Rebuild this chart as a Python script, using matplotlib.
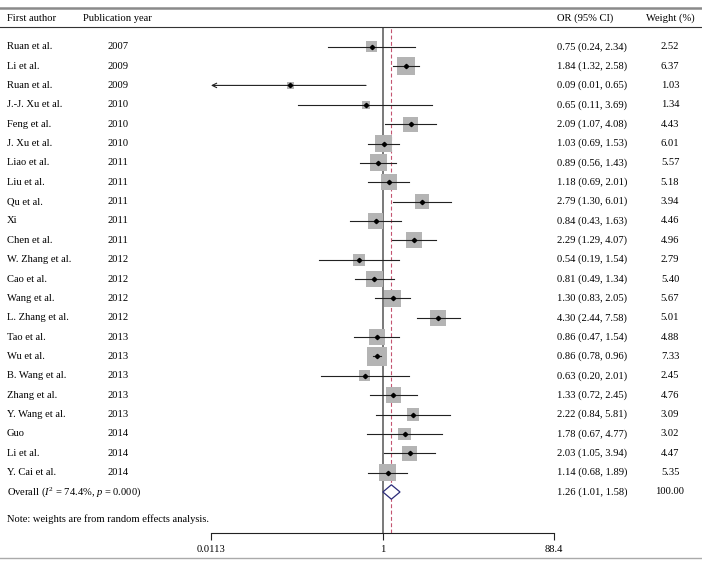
import matplotlib
matplotlib.use("Agg")
import matplotlib.pyplot as plt
import matplotlib.transforms as mtrans
from matplotlib.patches import Polygon
import numpy as np

plt.rcParams['font.family'] = ['Liberation Serif', 'DejaVu Serif']
plt.rcParams['mathtext.fontset'] = 'custom'
plt.rcParams['mathtext.rm'] = 'Liberation Serif'
plt.rcParams['mathtext.it'] = 'Liberation Serif:italic'

authors = ["Ruan et al.", "Li et al.", "Ruan et al.", "J.-J. Xu et al.", "Feng et al.",
           "J. Xu et al.", "Liao et al.", "Liu et al.", "Qu et al.", "Xi", "Chen et al.",
           "W. Zhang et al.", "Cao et al.", "Wang et al.", "L. Zhang et al.", "Tao et al.",
           "Wu et al.", "B. Wang et al.", "Zhang et al.", "Y. Wang et al.", "Guo",
           "Li et al.", "Y. Cai et al."]
years = [2007, 2009, 2009, 2010, 2010, 2010, 2011, 2011, 2011, 2011, 2011,
         2012, 2012, 2012, 2012, 2013, 2013, 2013, 2013, 2013, 2014, 2014, 2014]
or_est = [0.75, 1.84, 0.09, 0.65, 2.09, 1.03, 0.89, 1.18, 2.79, 0.84, 2.29,
          0.54, 0.81, 1.30, 4.30, 0.86, 0.86, 0.63, 1.33, 2.22, 1.78, 2.03, 1.14]
ci_lo = [0.24, 1.32, 0.01, 0.11, 1.07, 0.69, 0.56, 0.69, 1.30, 0.43, 1.29,
         0.19, 0.49, 0.83, 2.44, 0.47, 0.78, 0.20, 0.72, 0.84, 0.67, 1.05, 0.68]
ci_hi = [2.34, 2.58, 0.65, 3.69, 4.08, 1.53, 1.43, 2.01, 6.01, 1.63, 4.07,
         1.54, 1.34, 2.05, 7.58, 1.54, 0.96, 2.01, 2.45, 5.81, 4.77, 3.94, 1.89]
weights = [2.52, 6.37, 1.03, 1.34, 4.43, 6.01, 5.57, 5.18, 3.94, 4.46, 4.96,
           2.79, 5.40, 5.67, 5.01, 4.88, 7.33, 2.45, 4.76, 3.09, 3.02, 4.47, 5.35]

overall = (1.26, 1.01, 1.58)
overall_weight = "100.00"
xticks = [0.0113, 1, 88.4]
xtick_labels = ["0.0113", "1", "88.4"]

W, H = 702, 566
fig = plt.figure(figsize=(W / 100, H / 100), dpi=100)
# forest panel: from header line (y=27px) down to the axis line (y=533px)
ax = fig.add_axes([211 / W, (H - 533) / H, 343 / W, (533 - 27) / H])
ax.set_xscale('log')
ax.set_xlim(xticks[0], xticks[-1])
row0, step = 46.7, 19.36
ax.set_ylim((533 - row0) / step, (27 - row0) / step)

fs = 7.6
tf = mtrans.blended_transform_factory(fig.transFigure, ax.transData)

rows = np.arange(len(authors))
xmin = xticks[0]

# reference lines
ax.axvline(1, color='#555555', lw=1.1, zorder=1)
ax.axvline(overall[0], color='#c45470', lw=0.8, ls=(0, (3.5, 2.2)), zorder=1)

# boxes (area ~ weight)
ax.scatter(or_est, rows, s=np.array(weights) * 27, marker='s', color='#b4b4b4',
           edgecolors='none', zorder=2)
for i in rows:
    lo = ci_lo[i]
    if lo < xmin:
        ax.annotate("", xy=(xmin, i), xytext=(ci_hi[i], i),
                    arrowprops=dict(arrowstyle='->', lw=0.8, color='#222222',
                                    shrinkA=0, shrinkB=0, mutation_scale=8),
                    zorder=3)
    else:
        ax.plot([lo, ci_hi[i]], [i, i], color='#222222', lw=0.8, zorder=3)
ax.plot(or_est, rows, 'D', color='black', ms=2.2, zorder=4)

# overall diamond
yo = len(authors)
h = 7.2 / step
ax.add_patch(Polygon([(overall[1], yo), (overall[0], yo - h), (overall[2], yo),
                      (overall[0], yo + h)], closed=True, facecolor='white',
                     edgecolor='#2c2c7a', lw=0.9, zorder=5))

# text columns
for i in rows:
    ax.text(7 / W, i, authors[i], transform=tf, fontsize=fs, va='center')
    ax.text(108 / W, i, str(years[i]), transform=tf, fontsize=fs, va='center')
    ax.text(557 / W, i, "%.2f (%.2f, %.2f)" % (or_est[i], ci_lo[i], ci_hi[i]),
            transform=tf, fontsize=fs, va='center')
    ax.text(670 / W, i, "%.2f" % weights[i], transform=tf, fontsize=fs,
            va='center', ha='center')

ax.text(7 / W, yo, r"Overall ($\mathit{I}^2$ = 74.4%, $\mathit{p}$ = 0.000)", transform=tf,
        fontsize=fs, va='center')
ax.text(557 / W, yo, "%.2f (%.2f, %.2f)" % overall, transform=tf, fontsize=fs, va='center')
ax.text(670 / W, yo, overall_weight, transform=tf, fontsize=fs, va='center', ha='center')
ax.text(7 / W, yo + 1.4, "Note: weights are from random effects analysis.", transform=tf,
        fontsize=fs, va='center')

# header
hy = (H - 18.3) / H
fig.text(7 / W, hy, "First author", fontsize=fs, va='center')
fig.text(83 / W, hy, "Publication year", fontsize=fs, va='center')
fig.text(557 / W, hy, "OR (95% CI)", fontsize=fs, va='center')
fig.text(670 / W, hy, "Weight (%)", fontsize=fs, va='center', ha='center')

# rules
fig.add_artist(plt.Line2D([0, 1], [(H - 7.5) / H] * 2, color='#8a8a8a', lw=1.8))
fig.add_artist(plt.Line2D([0, 1], [(H - 27) / H] * 2, color='#333333', lw=0.8))
fig.add_artist(plt.Line2D([0, 1], [(H - 558) / H] * 2, color='#aaaaaa', lw=1.0))

# axis
for s in ['top', 'left', 'right']:
    ax.spines[s].set_visible(False)
ax.spines['bottom'].set_linewidth(0.8)
ax.spines['bottom'].set_color('#222222')
ax.set_yticks([])
ax.set_xticks(xticks)
ax.set_xticklabels(xtick_labels)
ax.minorticks_off()
ax.tick_params(axis='x', direction='out', length=5, width=0.8, pad=4, labelsize=fs,
               color='#222222')
ax.patch.set_alpha(0)

fig.savefig("out.png", dpi=100)
